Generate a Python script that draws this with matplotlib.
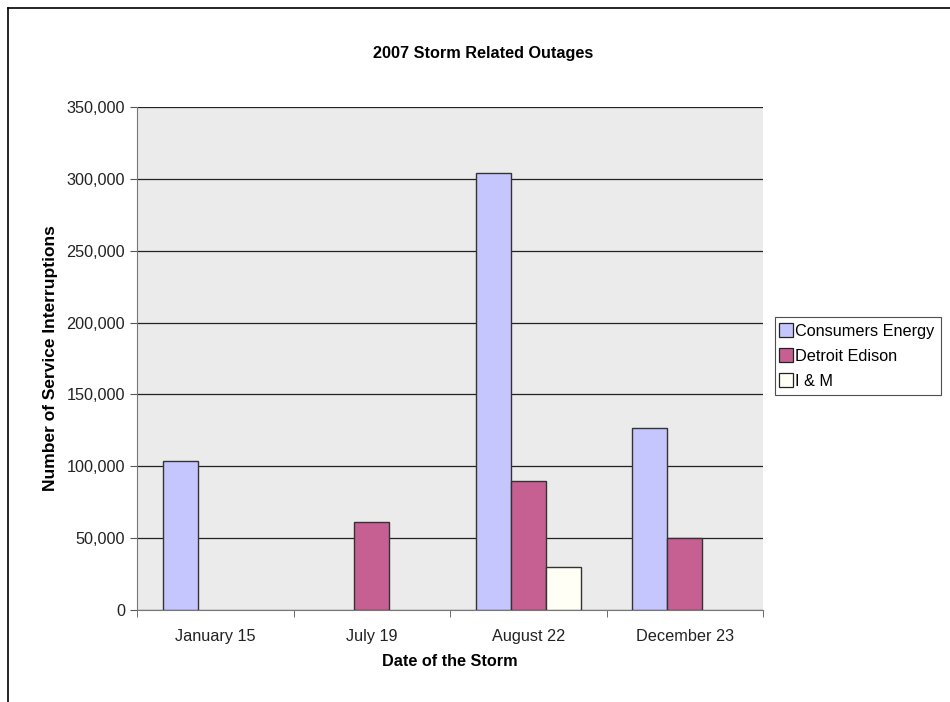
import numpy as np
import matplotlib.pyplot as plt
from matplotlib.ticker import FuncFormatter, FixedLocator
from matplotlib.lines import Line2D

plt.rcParams['font.family'] = ['Liberation Sans', 'DejaVu Sans']

storms = ['January 15', 'July 19', 'August 22', 'December 23']
consumers = [104000, 0, 304000, 127000]
detroit = [0, 61000, 90000, 50000]
im = [0, 0, 30000, 0]
series_names = ['Consumers Energy', 'Detroit Edison', 'I & M']
colors = ['#C6C6FF', '#C66092', '#FFFFF5']

fs = 11.7

fig = plt.figure(figsize=(9.5, 7.02), dpi=100)
ax = fig.add_axes([0.1442, 0.131, 0.659, 0.7165])
ax.set_facecolor('#EBEBEB')

x = np.arange(len(storms))
w = 0.224
for k, (vals, name, c) in enumerate(zip([consumers, detroit, im], series_names, colors)):
    xs = [xi + (k - 1) * w for xi, v in zip(x, vals) if v > 0]
    vs = [v for v in vals if v > 0]
    ax.bar(xs, vs, width=w, color=c, edgecolor='#333333', linewidth=1.0, label=name, zorder=3)

ax.set_xlim(-0.5, len(storms) - 0.5)
ax.set_ylim(0, 350000)
ax.set_yticks(np.arange(0, 350001, 50000))
ax.yaxis.set_major_formatter(FuncFormatter(lambda v, p: f'{int(v):,}'))
ax.yaxis.grid(True, color='#222222', linewidth=0.9, zorder=0)
ax.set_axisbelow(True)

ax.set_xticks(x)
ax.set_xticklabels(storms)
ax.xaxis.set_minor_locator(FixedLocator(np.arange(-0.5, len(storms), 1)))
ax.tick_params(axis='x', which='major', length=0, pad=14, labelsize=fs, colors='#222222')
ax.tick_params(axis='x', which='minor', length=5, color='#555555')
ax.tick_params(axis='y', length=5, color='#555555', labelsize=fs, labelcolor='#222222')

for s in ['top', 'right']:
    ax.spines[s].set_visible(False)
for s in ['left', 'bottom']:
    ax.spines[s].set_color('#777777')

ax.set_xlabel('Date of the Storm', fontsize=fs, fontweight='bold', labelpad=7)
ax.set_ylabel('Number of Service Interruptions', fontsize=12.5, fontweight='bold', labelpad=6)
fig.text(0.5084, 0.924, '2007 Storm Related Outages', fontsize=fs, fontweight='bold', ha='center', va='center')

handles = [Line2D([], [], marker='s', linestyle='none', markersize=9.5,
                  markerfacecolor=c, markeredgecolor='#222222', markeredgewidth=0.9)
           for c in colors]
leg = fig.legend(handles, series_names, loc='upper left', bbox_to_anchor=(0.8158, 0.548),
                 fontsize=fs, frameon=True, fancybox=False, edgecolor='#222222',
                 handlelength=0.6, handletextpad=0.25, borderpad=0.4, labelspacing=0.62,
                 borderaxespad=0)
leg.get_frame().set_linewidth(0.8)

# chart area border
fig.add_artist(Line2D([0.0084, 0.0084], [0, 0.9886], color='black', linewidth=1.2))
fig.add_artist(Line2D([0.0084, 1], [0.9886, 0.9886], color='black', linewidth=1.2))

fig.savefig('out.png', dpi=100)
